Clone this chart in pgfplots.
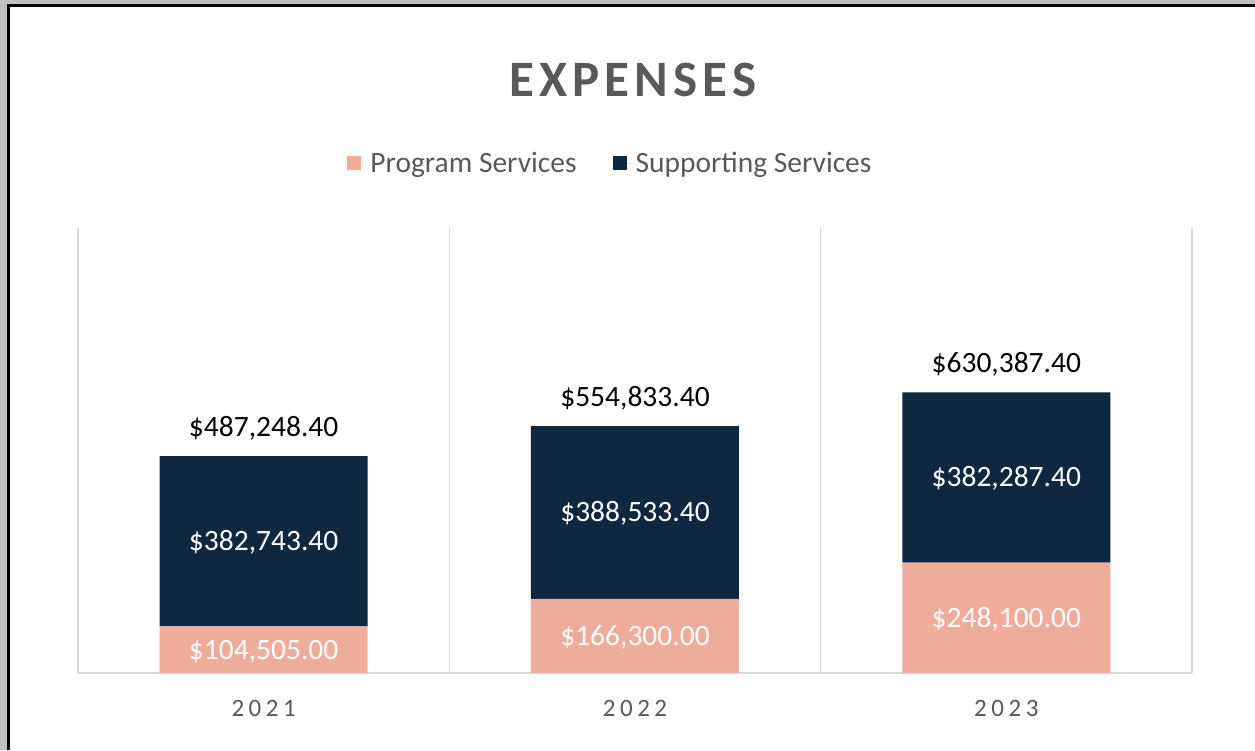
\documentclass[border=0pt]{standalone}
\usepackage{pgfplots}
\pgfplotsset{compat=1.18}
\usepackage{pgfplotstable}
\usepackage{fontspec}
\setmainfont{Carlito}
\newfontfamily\titlefont[LetterSpace=10]{Carlito}
\newfontfamily\tickfont[LetterSpace=18]{Carlito}
\definecolor{progc}{RGB}{240,172,155}
\definecolor{suppc}{RGB}{14,40,65}
\definecolor{gridgray}{RGB}{217,217,217}
\definecolor{labelgray}{RGB}{89,89,89}
\definecolor{bggray}{RGB}{192,192,192}

\pgfplotstableread{
x prog supp proglab supplab totlab
0 104505.00 382743.40 104,505.00 382,743.40 487,248.40
1 166300.00 388533.40 166,300.00 388,533.40 554,833.40
2 248100.00 382287.40 248,100.00 382,287.40 630,387.40
}\expdata

\pgfplotsset{
  base geom/.style={
    at={(78pt,77pt)}, anchor=south west,
    scale only axis, width=1114pt, height=445pt,
    xmin=-0.5, xmax=2.5, ymin=0, ymax=1000000,
  },
}
\tikzset{lbl/.style={font=\fontsize{29.5}{35}\selectfont}}

\begin{document}
\begin{tikzpicture}[x=1pt,y=1pt]
\useasboundingbox (0,0) rectangle (1255,750);
\fill[bggray] (0,0) rectangle (1255,750);
\fill[black] (7,0) rectangle (1255,746);
\fill[white] (10,0) rectangle (1255,743);
\begin{axis}[
  base geom,
  ybar stacked, bar width=208pt,
  xtick={0,1,2}, xticklabels={2021,2022,2023},
  minor xtick={-0.5,0.5,1.5,2.5},
  xminorgrids, minor grid style={draw=gridgray, line width=1.5pt},
  major tick length=0pt, minor tick length=0pt,
  axis y line=none, ytick=\empty,
  axis x line*=bottom,
  x axis line style={draw=gridgray, line width=1.5pt},
  xticklabel style={font=\tickfont\fontsize{25}{30}\selectfont, text=labelgray, anchor=base, yshift=-43pt, inner sep=0pt},
  title={EXPENSES},
  title style={at={(axis description cs:0.498,1.319)}, anchor=center, font=\titlefont\bfseries\fontsize{51}{60}\selectfont, text=labelgray},
  legend style={at={(axis description cs:0.478,1.146)}, anchor=center, draw=none, fill=none,
    legend columns=2, font=\fontsize{29.5}{35}\selectfont, text=labelgray,
    /tikz/every even column/.append style={column sep=34pt}},
  legend cell align=left,
]
\addplot[fill=progc, draw=none,
  legend image code/.code={\fill[progc] (0pt,-7pt) rectangle (14pt,7pt); \path (0pt,0pt) -- (21pt,0pt);},
] table[x=x, y=prog] {\expdata};
\addplot[fill=suppc, draw=none,
  legend image code/.code={\fill[suppc] (0pt,-7pt) rectangle (14pt,7pt); \path (0pt,0pt) -- (21pt,0pt);},
] table[x=x, y=supp] {\expdata};
\legend{Program Services, Supporting Services}
\end{axis}
\begin{axis}[
  base geom, hide axis,
  nodes near coords={\$\pgfplotspointmeta},
  point meta=explicit symbolic,
]
\addplot[only marks, mark=none,
  every node near coord/.append style={lbl, text=white, anchor=base, yshift=-9.4pt},
] table[x=x, y expr=\thisrow{prog}/2, meta=proglab] {\expdata};
\addplot[only marks, mark=none,
  every node near coord/.append style={lbl, text=white, anchor=base, yshift=-9.4pt},
] table[x=x, y expr=\thisrow{prog}+\thisrow{supp}/2, meta=supplab] {\expdata};
\addplot[only marks, mark=none,
  every node near coord/.append style={lbl, text=black, anchor=base, yshift=20pt},
] table[x=x, y expr=\thisrow{prog}+\thisrow{supp}, meta=totlab] {\expdata};
\end{axis}
\end{tikzpicture}
\end{document}
